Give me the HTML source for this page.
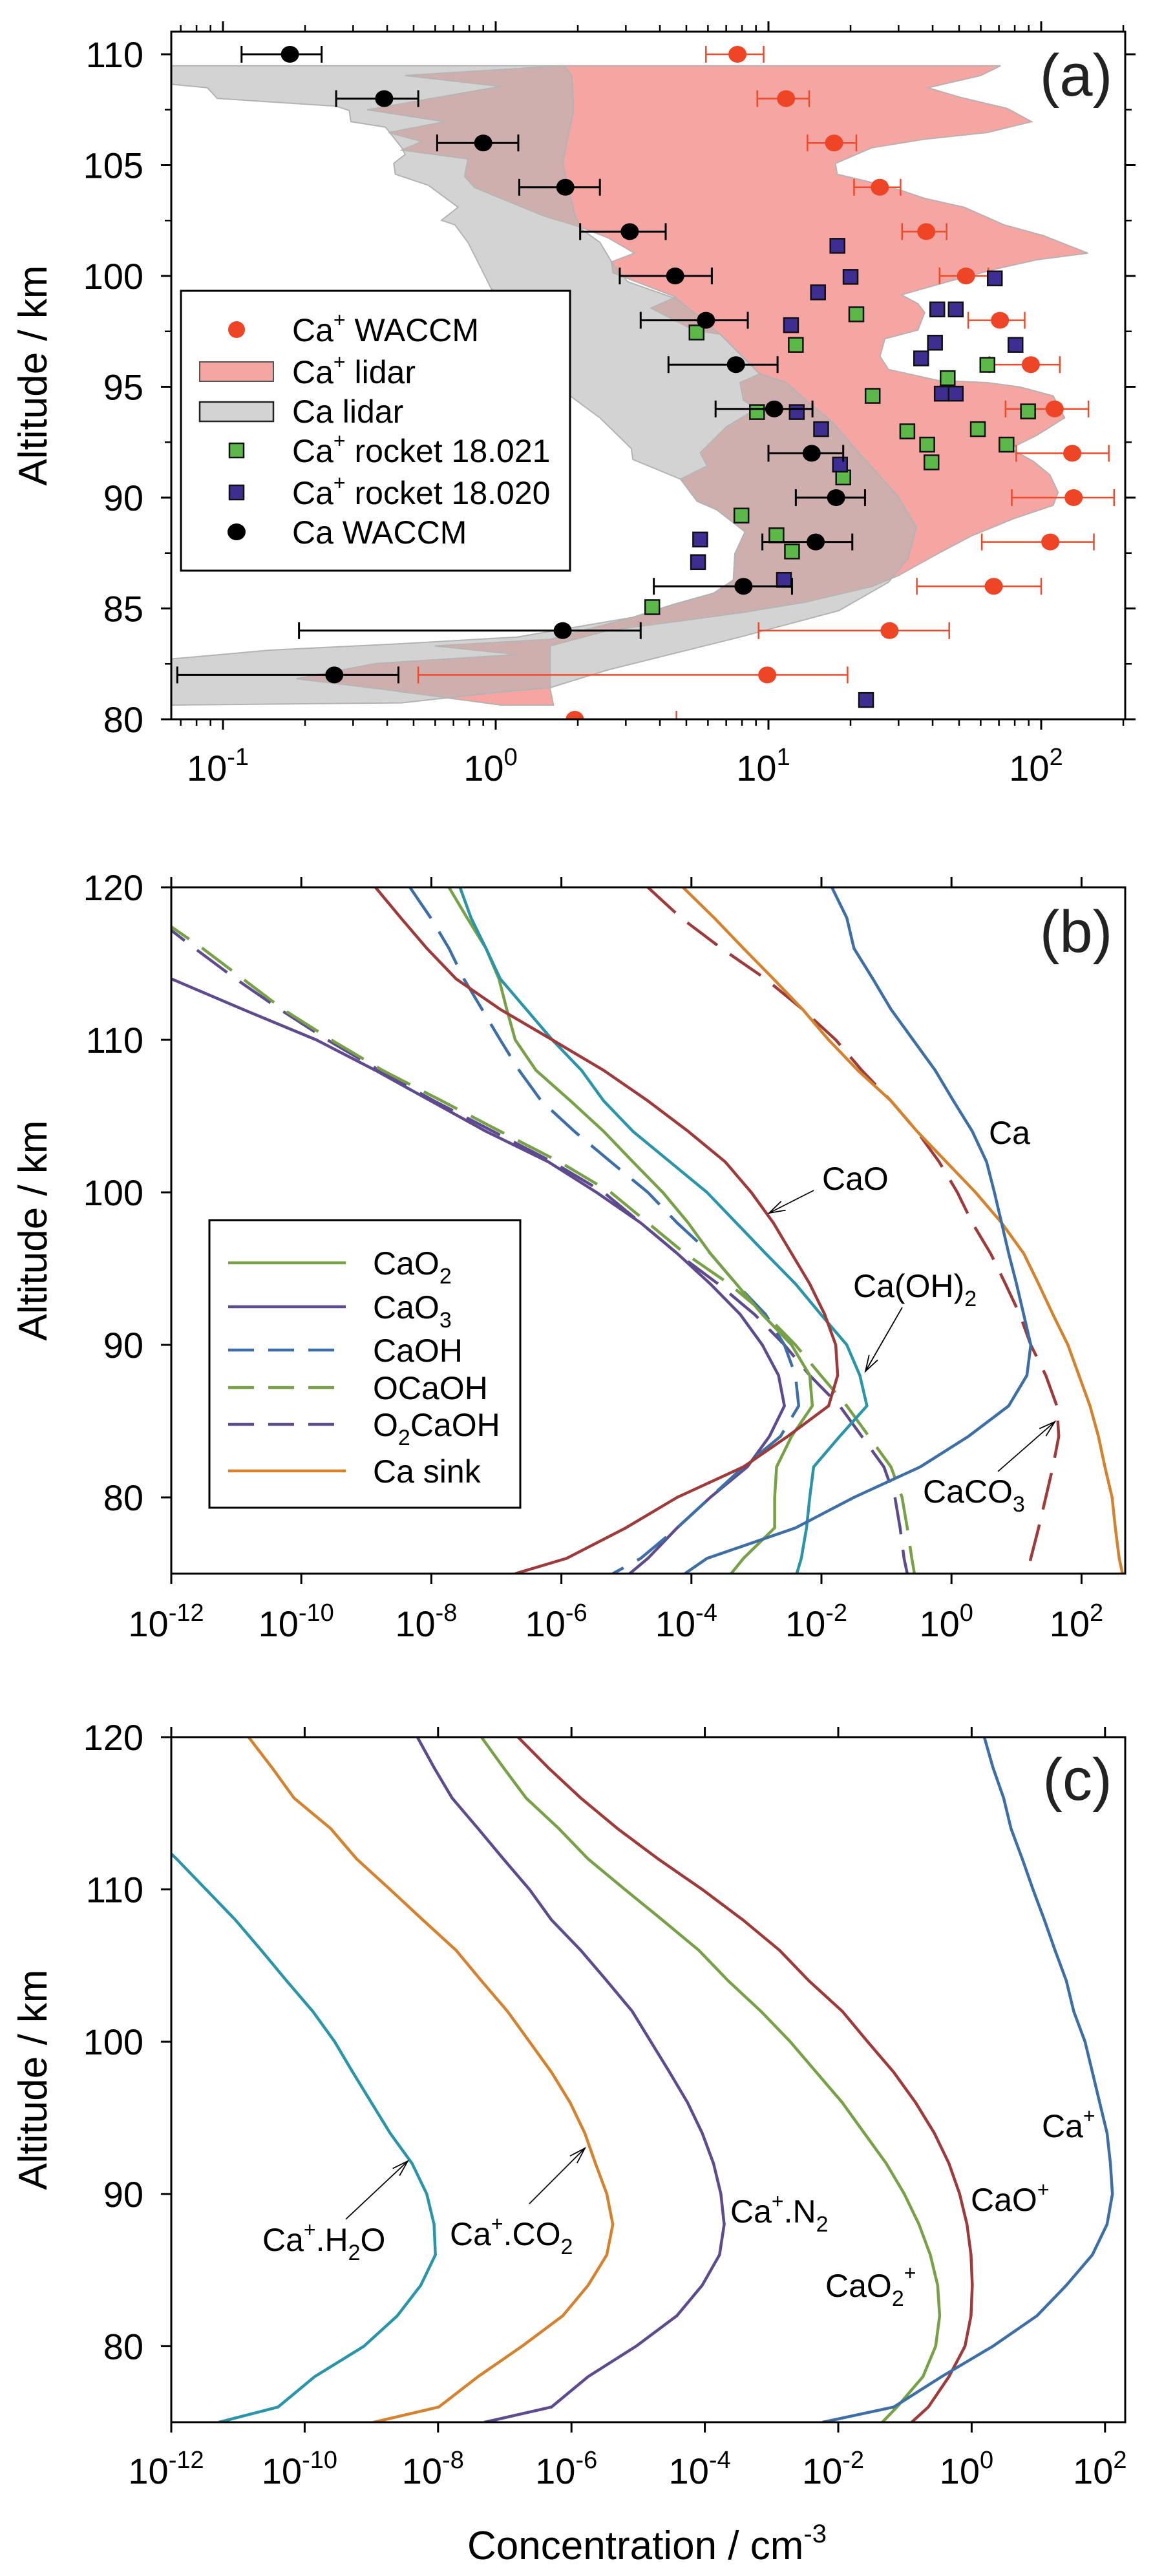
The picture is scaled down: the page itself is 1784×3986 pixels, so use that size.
<!DOCTYPE html>
<html><head><meta charset="utf-8"><title>Ca and Ca+ profiles</title>
<style>
html,body{margin:0;padding:0;background:#fff;}
svg{display:block;font-family:"Liberation Sans",Arial,sans-serif;}
</style></head>
<body>
<svg id="fig" xmlns="http://www.w3.org/2000/svg" width="1784" height="3986" viewBox="0 0 1784 3986">
<defs>
<clipPath id="clipA"><rect x="265" y="49" width="1476" height="1064"/></clipPath>
<clipPath id="clipB"><rect x="265" y="1373" width="1476" height="1062"/></clipPath>
<clipPath id="clipC"><rect x="265" y="2688" width="1476" height="1060"/></clipPath>
</defs>
<rect x="0" y="0" width="1784" height="3986" fill="#fff"/>
<g id="panelA"></g>
<g id="panelB"></g>
<g id="panelC"></g>

<g>
<rect x="280" y="450" width="602" height="433" fill="#fff" stroke="#000" stroke-width="3"/>
<circle cx="366" cy="510" r="13" fill="#ee4526"/>
<rect x="309" y="560" width="114" height="30" fill="#f5a5a2" stroke="#555" stroke-width="2"/>
<rect x="309" y="622" width="114" height="30" fill="#d3d3d3" stroke="#222" stroke-width="2.5"/>
<rect x="355" y="686" width="22" height="22" fill="#5cb848" stroke="#111" stroke-width="2.5"/>
<rect x="355" y="751" width="22" height="22" fill="#3f2e92" stroke="#111" stroke-width="2.5"/>
<ellipse cx="366" cy="823" rx="14" ry="13" fill="#000"/>
<g font-size="50" fill="#000">
<text x="452" y="528">Ca<tspan dy="-22" font-size="32">+</tspan><tspan dy="22"> WACCM</tspan></text>
<text x="452" y="593">Ca<tspan dy="-22" font-size="32">+</tspan><tspan dy="22"> lidar</tspan></text>
<text x="452" y="654">Ca lidar</text>
<text x="452" y="715">Ca<tspan dy="-22" font-size="32">+</tspan><tspan dy="22"> rocket 18.021</tspan></text>
<text x="452" y="780">Ca<tspan dy="-22" font-size="32">+</tspan><tspan dy="22"> rocket 18.020</tspan></text>
<text x="452" y="841">Ca WACCM</text>
</g>
</g>

<g>
<rect x="324" y="1888" width="481" height="445" fill="#fff" stroke="#000" stroke-width="3"/>
<line x1="353" y1="1954" x2="535" y2="1954" stroke="#77a146" stroke-width="4.5"/>
<line x1="353" y1="2022" x2="535" y2="2022" stroke="#5e4b8e" stroke-width="4.5"/>
<line x1="353" y1="2089" x2="535" y2="2089" stroke="#3d6ea6" stroke-width="4.5" stroke-dasharray="40,22"/>
<line x1="353" y1="2147" x2="535" y2="2147" stroke="#77a146" stroke-width="4.5" stroke-dasharray="40,22"/>
<line x1="353" y1="2204" x2="535" y2="2204" stroke="#5e4b8e" stroke-width="4.5" stroke-dasharray="40,22"/>
<line x1="353" y1="2276" x2="535" y2="2276" stroke="#d4822e" stroke-width="4.5"/>
<g font-size="50" fill="#000">
<text x="577" y="1972">CaO<tspan dy="14" font-size="34">2</tspan></text>
<text x="577" y="2040">CaO<tspan dy="14" font-size="34">3</tspan></text>
<text x="577" y="2107">CaOH</text>
<text x="577" y="2165">OCaOH</text>
<text x="577" y="2222">O<tspan dy="14" font-size="34">2</tspan><tspan dy="-14">CaOH</tspan></text>
<text x="577" y="2294">Ca sink</text>
</g>
</g>

<g font-size="62" fill="#000">
<text transform="translate(72,581) rotate(-90)" text-anchor="middle">Altitude / km</text>
<text transform="translate(72,1904) rotate(-90)" text-anchor="middle">Altitude / km</text>
<text transform="translate(72,3218) rotate(-90)" text-anchor="middle">Altitude / km</text>
<text x="1001" y="3960" text-anchor="middle">Concentration / cm<tspan dy="-26" font-size="40">-3</tspan></text>
</g>
<g font-size="92" fill="#222">
<text x="1665" y="148" text-anchor="middle">(a)</text>
<text x="1665" y="1473" text-anchor="middle">(b)</text>
<text x="1667" y="2785" text-anchor="middle">(c)</text>
</g>
<g font-size="50" fill="#000">
<text x="1530" y="1770">Ca</text>
<text x="1272" y="1841">CaO</text>
<text x="1320" y="2007">Ca(OH)<tspan dy="14" font-size="34">2</tspan></text>
<text x="1428" y="2325">CaCO<tspan dy="14" font-size="34">3</tspan></text>
<text x="1612" y="3307">Ca<tspan dy="-22" font-size="32">+</tspan></text>
<text x="1502" y="3421">CaO<tspan dy="-22" font-size="32">+</tspan></text>
<text x="1277" y="3554">CaO<tspan dy="14" font-size="34">2</tspan><tspan dy="-40" font-size="32">+</tspan></text>
<text x="1130" y="3439">Ca<tspan dy="-22" font-size="32">+</tspan><tspan dy="22">.N</tspan><tspan dy="14" font-size="34">2</tspan></text>
<text x="696" y="3474">Ca<tspan dy="-22" font-size="32">+</tspan><tspan dy="22">.CO</tspan><tspan dy="14" font-size="34">2</tspan></text>
<text x="406" y="3483">Ca<tspan dy="-22" font-size="32">+</tspan><tspan dy="22">.H</tspan><tspan dy="14" font-size="34">2</tspan><tspan dy="-14">O</tspan></text>
</g>
</svg>
<script>
// ---------- Panel (a) data ----------
const caIonAlt = [110,108,106,104,102,100,98,96,94,92,90,88,86,84,82,80];
const caIonWaccm = [7.7,11.6,17.4,25.6,37.9,53,70.6,91.6,112,130,131.5,108,67,27.8,9.9,1.95];
const caIonLo = [5.9,9.1,13.9,20.6,30.9,42.4,54,64.6,74,81,78,60.6,35,9.2,0.52,1.95];
const caIonHi = [9.6,14.1,21.0,30.5,45,64,87,117,149,177,185,156,100,46,19.5,4.6];
const caAlt = [110,108,106,104,102,100,98,96,94,92,90,88,86,84,82];
const caWaccm = [0.176,0.39,0.90,1.80,3.1,4.55,5.9,7.6,10.5,14.4,17.7,14.9,8.1,1.76,0.256];
const caLo = [0.117,0.26,0.61,1.22,2.04,2.85,3.4,4.3,6.4,10.0,12.6,9.5,3.8,0.19,0.068];
const caHi = [0.23,0.52,1.21,2.41,4.2,6.2,8.4,10.8,14.5,18.8,22.6,20.3,12.2,3.4,0.44];
const rocket21Alt = [97.45,96.89,98.27,95.99,95.39,94.59,93.86,93.89,92.99,93.09,92.39,92.39,91.59,90.91,89.19,88.30,87.57,85.06];
const rocket21Conc = [5.45,12.6,21.0,63.5,45.4,24.1,9.08,89.5,32.3,58.6,38.2,74.6,39.6,18.8,7.96,10.7,12.2,3.75];
const rocket20Alt = [101.36,99.96,99.89,99.26,98.49,98.49,97.78,96.99,96.89,96.28,94.69,94.69,93.86,93.09,91.49,88.11,87.09,86.29,80.87];
const rocket20Conc = [17.9,20.0,67.6,15.2,41.6,48.6,12.1,40.8,80.5,36.3,43.2,48.6,12.7,15.6,18.3,5.62,5.52,11.4,22.8];
// lidar envelopes (log10 concentration, altitude km)
const caLidarLog = [-1.19,0.249,0.279,0.285,0.261,0.246,0.267,0.291,0.315,0.382,0.430,0.484,0.666,0.823,0.968,1.065,1.137,1.234,1.331,1.476,1.542,1.512,1.440,1.258,0.896,0.412,0.200,0.019,-0.344,-1.19,-1.19,-0.827,-0.344,0.079,0.503,0.654,0.799,0.871,0.877,0.914,0.811,0.738,0.678,0.503,0.497,0.382,0.273,0.140,-0.017,-0.053,-0.102,-0.150,-0.199,-0.138,-0.247,-0.368,-0.374,-0.332,-0.344,-0.404,-0.531,-0.537,-0.585,-1.021,-1.057,-1.19];
const caLidarAlt = [109.48,109.48,109.04,107.46,106.07,105.08,103.90,102.71,102.11,101.52,100.53,99.74,98.95,97.37,95.58,95.19,94.40,93.41,92.02,90.04,88.66,87.27,86.18,84.90,83.71,82.23,81.43,81.24,80.74,80.64,82.72,83.12,83.41,83.71,84.60,85.19,85.69,86.28,87.47,88.46,89.45,89.84,90.83,91.72,92.22,93.60,94.59,97.17,99.44,100.33,101.52,102.31,102.51,103.10,104.09,104.59,105.08,105.48,105.78,106.71,106.96,107.46,107.66,108.01,108.49,108.65];
const caIonLidarLog = [0.243,1.851,1.778,1.585,1.706,1.875,1.965,1.802,1.573,1.379,1.246,1.252,1.355,1.476,1.573,1.718,1.863,2.008,2.171,1.984,1.839,1.657,1.488,1.548,1.573,1.548,1.427,1.409,1.440,1.621,1.802,1.923,2.044,2.086,1.984,1.887,1.972,2.032,2.062,2.044,1.899,1.742,1.621,1.476,1.379,1.137,0.896,0.654,0.412,0.200,0.200,0.212,0.019,-0.404,-0.731,-0.440,0.079,-0.223,0.200,0.503,0.654,0.799,0.871,0.877,0.914,0.811,0.738,0.678,0.775,0.750,0.847,0.956,0.908,0.896,0.968,0.823,0.726,0.569,0.660,0.430,0.424,0.509,0.412,0.309,0.176,0.019,-0.078,-0.114,-0.102,-0.344,-0.271,-0.392,-0.187,-0.471,0.019,-0.332];
const caIonLidarAlt = [109.48,109.48,109.04,108.49,108.05,107.56,106.96,106.47,106.17,105.78,105.08,104.59,104.29,103.90,103.50,103.10,102.31,101.82,101.03,100.73,100.33,99.74,99.15,98.75,98.35,97.56,97.17,96.38,95.78,95.29,95.19,94.99,94.59,93.60,92.81,92.22,91.63,91.03,90.24,89.65,89.05,88.26,87.47,86.48,85.99,85.29,84.80,84.40,84.01,83.31,81.34,80.64,80.64,81.34,81.83,82.52,82.92,83.31,83.61,84.60,85.19,85.69,86.28,87.47,88.46,89.45,89.84,90.83,91.43,92.02,93.21,94.00,94.40,95.19,95.58,97.37,97.56,98.55,99.05,100.14,100.63,101.03,101.72,102.21,102.71,103.50,103.99,104.49,105.28,105.68,106.07,106.47,106.96,107.50,108.55,109.04];
const aYTicks = [80,85,90,95,100,105,110];
const aXTickExp = [-1,0,1,2];

// ---------- Panel (b) data (log10 concentration at altitudes) ----------
const altB = [120,118,116,114,112,110,108,106,104,102,100,98,96,94,92,90,88,86,84,82,80,78,76,75];
const bCa = [-1.84,-1.61,-1.50,-1.21,-0.93,-0.59,-0.25,0.03,0.32,0.54,0.66,0.77,0.88,1.00,1.11,1.22,1.16,0.88,0.26,-0.48,-1.50,-2.40,-3.76,-4.10];
const bCaO = [-8.86,-8.47,-8.07,-7.62,-6.94,-6.14,-5.35,-4.67,-4.05,-3.48,-3.08,-2.74,-2.46,-2.18,-1.95,-1.78,-1.75,-1.89,-2.52,-3.20,-4.22,-5.01,-5.92,-6.71];
const bCaOH2 = [-7.56,-7.39,-7.16,-6.94,-6.54,-6.14,-5.69,-5.35,-4.90,-4.33,-3.76,-3.31,-2.86,-2.40,-2.01,-1.61,-1.41,-1.30,-1.72,-2.12,-2.18,-2.23,-2.31,-2.38];
const bCaO2 = [-7.73,-7.45,-7.16,-6.96,-6.84,-6.71,-6.39,-5.86,-5.35,-4.90,-4.44,-4.05,-3.71,-3.31,-2.91,-2.46,-2.18,-2.14,-2.46,-2.69,-2.72,-2.72,-3.20,-3.39];
const bCaO3 = [null,null,-12.4,-12.0,-10.90,-9.77,-8.86,-8.01,-7.16,-6.20,-5.46,-4.78,-4.22,-3.71,-3.25,-2.91,-2.66,-2.57,-2.80,-3.14,-3.71,-4.22,-4.67,-4.95];
const bCaOH = [-8.33,-8.01,-7.73,-7.50,-7.22,-6.94,-6.65,-6.31,-5.80,-5.24,-4.67,-4.22,-3.71,-3.31,-2.86,-2.57,-2.40,-2.35,-2.63,-3.20,-3.71,-4.22,-4.78,-5.21];
const bOCaOH = [null,-12.2,-11.52,-10.90,-10.28,-9.54,-8.75,-7.84,-6.94,-6.03,-5.24,-4.67,-4.10,-3.42,-2.86,-2.40,-2.01,-1.61,-1.27,-0.93,-0.76,-0.68,-0.61,-0.57];
const bO2CaOH = [null,-12.25,-11.64,-11.01,-10.33,-9.60,-8.80,-7.96,-7.05,-6.14,-5.35,-4.78,-4.22,-3.59,-3.03,-2.57,-2.18,-1.72,-1.38,-1.04,-0.87,-0.79,-0.73,-0.68];
const bCaCO3 = [-4.67,-4.16,-3.54,-2.86,-2.29,-1.78,-1.38,-0.93,-0.53,-0.19,0.09,0.32,0.60,0.83,1.05,1.22,1.45,1.62,1.65,1.56,1.45,1.34,1.22,1.17];
const bCaSink = [-4.13,-3.65,-3.20,-2.74,-2.29,-1.89,-1.44,-0.93,-0.53,-0.08,0.37,0.77,1.11,1.34,1.56,1.79,1.96,2.13,2.26,2.36,2.47,2.52,2.58,2.63];
const bYTicks = [80,90,100,110,120];
const bXTickExp = [-12,-10,-8,-6,-4,-2,0,2];

// ---------- Panel (c) data ----------
const altC = [120,118,116,114,112,110,108,106,104,102,100,98,96,94,92,90,88,86,84,82,80,78,76,75];
const cCaIon = [0.19,0.32,0.48,0.59,0.76,0.92,1.09,1.25,1.42,1.53,1.70,1.81,1.92,2.03,2.08,2.11,2.03,1.81,1.42,0.98,0.32,-0.45,-1.17,-2.24];
const cCaOIon = [-6.80,-6.35,-5.86,-5.31,-4.70,-4.04,-3.43,-2.88,-2.44,-1.94,-1.56,-1.17,-0.84,-0.56,-0.34,-0.18,-0.07,-0.01,0.01,-0.01,-0.10,-0.34,-0.65,-0.90];
const cCaO2Ion = [-7.35,-7.02,-6.68,-6.19,-5.75,-5.20,-4.64,-4.09,-3.65,-3.16,-2.72,-2.33,-1.94,-1.61,-1.28,-1.01,-0.79,-0.62,-0.51,-0.48,-0.54,-0.73,-1.12,-1.34];
const cCaIonN2 = [-8.31,-8.06,-7.79,-7.40,-7.02,-6.63,-6.30,-5.86,-5.47,-5.09,-4.81,-4.53,-4.26,-4.04,-3.87,-3.76,-3.71,-3.78,-4.04,-4.42,-5.03,-5.75,-6.30,-7.31];
const cCaIonCO2 = [-10.84,-10.49,-10.16,-9.61,-9.22,-8.72,-8.23,-7.73,-7.35,-6.96,-6.63,-6.30,-6.02,-5.80,-5.64,-5.47,-5.38,-5.47,-5.75,-6.13,-6.74,-7.40,-7.99,-8.97];
const cCaIonH2O = [null,null,null,-12.4,-11.92,-11.48,-11.04,-10.65,-10.27,-9.88,-9.55,-9.28,-9.00,-8.72,-8.39,-8.17,-8.06,-8.04,-8.26,-8.61,-9.11,-9.85,-10.40,-11.29];
const cYTicks = [80,90,100,110,120];
const cXTickExp = [-12,-10,-8,-6,-4,-2,0,2];

// ---------- axis functions ----------
const xaL = l => 1611 + (l - 2) * 422;
const xa = v => xaL(Math.log10(v));
const ya = a => 1113 - (a - 80) * 34.3;
const xbL = l => 265 + (l + 12) * 100.6;
const yb = a => 1373 + (120 - a) * 23.6;
const xcL = l => 265 + (l + 12) * 103.2;
const yc = a => 2688 + (120 - a) * 23.56;

const NS = 'http://www.w3.org/2000/svg';
function mk(parent, tag, attrs) {
  const el = document.createElementNS(NS, tag);
  for (const k in attrs) el.setAttribute(k, attrs[k]);
  parent.appendChild(el);
  return el;
}
const gA = document.getElementById('panelA');
const gB = document.getElementById('panelB');
const gC = document.getElementById('panelC');

// ----- panel a -----
const aClip = mk(gA, 'g', {'clip-path': 'url(#clipA)'});


let pts = caIonLidarLog.map((l, i) => xaL(l).toFixed(1) + ',' + ya(caIonLidarAlt[i]).toFixed(1)).join(' ');
let el = mk(aClip, 'polygon', {points: pts, fill: '#f5a5a2', stroke: '#b9b1b1', 'stroke-width': 2});


pts = caLidarLog.map((l, i) => xaL(l).toFixed(1) + ',' + ya(caLidarAlt[i]).toFixed(1)).join(' ');
el = mk(aClip, 'polygon', {points: pts, fill: 'rgb(182,182,182)', 'fill-opacity': 0.6, stroke: '#b3b3b3', 'stroke-width': 2});



function errBar(g, a, c, lo, hi, col, w, yf) {
  const y = yf(a);
  mk(g, 'line', {x1: xa(lo), y1: y, x2: xa(hi), y2: y, stroke: col, 'stroke-width': w});
  if (lo !== c) mk(g, 'line', {x1: xa(lo), y1: y - 13, x2: xa(lo), y2: y + 13, stroke: col, 'stroke-width': w});
  mk(g, 'line', {x1: xa(hi), y1: y - 13, x2: xa(hi), y2: y + 13, stroke: col, 'stroke-width': w});
}
caIonAlt.forEach((a, i) => {
  const g = mk(aClip, 'g', {});
  
  
  errBar(g, a, caIonWaccm[i], caIonLo[i], caIonHi[i], '#ee4a2c', 2.5, ya);
  mk(g, 'ellipse', {cx: xa(caIonWaccm[i]), cy: ya(a), rx: 14, ry: 13, fill: '#ee4526'});
});
rocket21Alt.forEach((a, i) => {
  const r = mk(aClip, 'rect', {x: xa(rocket21Conc[i]) - 11, y: ya(a) - 11, width: 22, height: 22, fill: '#5cb848', stroke: '#111', 'stroke-width': 2.5});
  
  
});
rocket20Alt.forEach((a, i) => {
  const r = mk(aClip, 'rect', {x: xa(rocket20Conc[i]) - 11, y: ya(a) - 11, width: 22, height: 22, fill: '#3f2e92', stroke: '#111', 'stroke-width': 2.5});
  
  
});
caAlt.forEach((a, i) => {
  const g = mk(aClip, 'g', {});
  
  
  errBar(g, a, caWaccm[i], caLo[i], caHi[i], '#000', 3, ya);
  mk(g, 'ellipse', {cx: xa(caWaccm[i]), cy: ya(a), rx: 14, ry: 13, fill: '#000'});
});

// generic axes builder
function axes(g, name, x0, y0, x1, y1, xFn, xExpTicks, minorLog, yFn, yTicks, yMinor, rightTicks, xLo, xHi) {
  const ax = mk(g, 'g', {stroke: '#000', 'stroke-width': 3, fill: 'none'});
  
  
  mk(ax, 'rect', {x: x0, y: y0, width: x1 - x0, height: y1 - y0});
  // x ticks
  xExpTicks.forEach(e => {
    const x = xFn(e);
    mk(ax, 'line', {x1: x, y1: y1, x2: x, y2: y1 + 16});
    mk(ax, 'line', {x1: x, y1: y0, x2: x, y2: y0 - 16});
  });
  if (minorLog) {
    for (let d = -3; d <= 3; d++) for (let m = 2; m <= 9; m++) {
      const l = d + Math.log10(m);
      if (l < xLo || l > xHi) continue;
      const x = xFn(l);
      mk(ax, 'line', {x1: x, y1: y1, x2: x, y2: y1 + 10, 'stroke-width': 2.5});
      mk(ax, 'line', {x1: x, y1: y0, x2: x, y2: y0 - 10, 'stroke-width': 2.5});
    }
  }
  yTicks.forEach(a => {
    const y = yFn(a);
    mk(ax, 'line', {x1: x0 - 16, y1: y, x2: x0, y2: y});
    if (rightTicks) mk(ax, 'line', {x1: x1, y1: y, x2: x1 + 16, y2: y});
  });
  yMinor.forEach(a => {
    const y = yFn(a);
    mk(ax, 'line', {x1: x0 - 10, y1: y, x2: x0, y2: y, 'stroke-width': 2.5});
    if (rightTicks) mk(ax, 'line', {x1: x1, y1: y, x2: x1 + 10, y2: y, 'stroke-width': 2.5});
  });
  const lab = mk(g, 'g', {'font-size': 56, fill: '#000'});
  
  
  return lab;
}
function tickLabels(lab, xFn, exps, yFn, yTicks, xBase) {
  exps.forEach(e => {
    const t = mk(lab, 'text', {x: xFn(e) - 8, y: xBase, 'text-anchor': 'middle'});
    
    
    t.appendChild(document.createTextNode('10'));
    const s = mk(t, 'tspan', {dy: -24, 'font-size': 38});
    s.textContent = String(e).replace('-', '-');
  });
  yTicks.forEach(a => {
    const t = mk(lab, 'text', {x: 222, y: yFn(a) + 20, 'text-anchor': 'end'});
    
    
    t.textContent = a;
  });
}
const aMinorY = [82.5, 87.5, 92.5, 97.5, 102.5, 107.5];
let lab = axes(gA, 'panel-a', 265, 49, 1741, 1113, xaL, aXTickExp, true, ya, aYTicks, aMinorY, true, -1.19, 2.31);
tickLabels(lab, xaL, aXTickExp, ya, aYTicks, 1208);

// ----- line series helper -----
function series(parent, name, alts, vals, xFn, yFn, col, dash) {
  let d = '', started = false;
  vals.forEach((v, i) => {
    if (v === null) { started = false; return; }
    d += (started ? 'L' : 'M') + xFn(v).toFixed(1) + ',' + yFn(alts[i]).toFixed(1);
    started = true;
  });
  const p = mk(parent, 'path', {d: d, fill: 'none', stroke: col, 'stroke-width': 4.5, 'stroke-linejoin': 'round'});
  if (dash) p.setAttribute('stroke-dasharray', '58,24');
  
  
}

// ----- panel b -----
const bClip = mk(gB, 'g', {'clip-path': 'url(#clipB)'});


series(bClip, 'line-cao3', altB, bCaO3, xbL, yb, '#5e4b8e', false);
series(bClip, 'line-o2caoh', altB, bO2CaOH, xbL, yb, '#5e4b8e', true);
series(bClip, 'line-ocaoh', altB, bOCaOH, xbL, yb, '#77a146', true);
series(bClip, 'line-caoh', altB, bCaOH, xbL, yb, '#3d6ea6', true);
series(bClip, 'line-cao2', altB, bCaO2, xbL, yb, '#77a146', false);
series(bClip, 'line-ca-oh-2', altB, bCaOH2, xbL, yb, '#2a95a8', false);
series(bClip, 'line-cao', altB, bCaO, xbL, yb, '#9e3a3a', false);
series(bClip, 'line-caco3', altB, bCaCO3, xbL, yb, '#9e3a3a', true);
series(bClip, 'line-ca-sink', altB, bCaSink, xbL, yb, '#d4822e', false);
series(bClip, 'line-ca', altB, bCa, xbL, yb, '#3d6ea6', false);
lab = axes(gB, 'panel-b', 265, 1373, 1741, 2435, xbL, bXTickExp, false, yb, bYTicks, [], false, -12, 2.67);
tickLabels(lab, xbL, bXTickExp, yb, bYTicks, 2532);

// arrows b
function arrow(g, name, x1, y1, x2, y2) {
  const a = mk(g, 'g', {stroke: '#000', 'stroke-width': 1.8, fill: 'none'});
  
  
  mk(a, 'line', {x1: x1, y1: y1, x2: x2, y2: y2});
  const ang = Math.atan2(y2 - y1, x2 - x1), L = 26, s = 0.3;
  mk(a, 'path', {d: 'M' + (x2 - L * Math.cos(ang - s)) + ',' + (y2 - L * Math.sin(ang - s)) + 'L' + x2 + ',' + y2 + 'L' + (x2 - L * Math.cos(ang + s)) + ',' + (y2 - L * Math.sin(ang + s))});
}
arrow(gB, 'arrow-cao', 1259, 1842, 1190, 1877);
arrow(gB, 'arrow-ca-oh-2', 1396, 2023, 1339, 2122);
arrow(gB, 'arrow-caco3', 1544, 2277, 1632, 2200);

// ----- panel c -----
const cClip = mk(gC, 'g', {'clip-path': 'url(#clipC)'});


series(cClip, 'line-ca-ion-h2o', altC, cCaIonH2O, xcL, yc, '#2a95a8', false);
series(cClip, 'line-ca-ion-co2', altC, cCaIonCO2, xcL, yc, '#d4822e', false);
series(cClip, 'line-ca-ion-n2', altC, cCaIonN2, xcL, yc, '#5e4b8e', false);
series(cClip, 'line-cao2-ion', altC, cCaO2Ion, xcL, yc, '#77a146', false);
series(cClip, 'line-cao-ion', altC, cCaOIon, xcL, yc, '#9e3a3a', false);
series(cClip, 'line-ca-ion', altC, cCaIon, xcL, yc, '#3d6ea6', false);
lab = axes(gC, 'panel-c', 265, 2688, 1741, 3748, xcL, cXTickExp, false, yc, cYTicks, [], false, -12, 2.3);
tickLabels(lab, xcL, cXTickExp, yc, cYTicks, 3843);
arrow(gC, 'arrow-ca-ion-co2', 819, 3410, 905, 3324);
arrow(gC, 'arrow-ca-ion-h2o', 535, 3434, 631, 3344);
</script>
</body></html>
